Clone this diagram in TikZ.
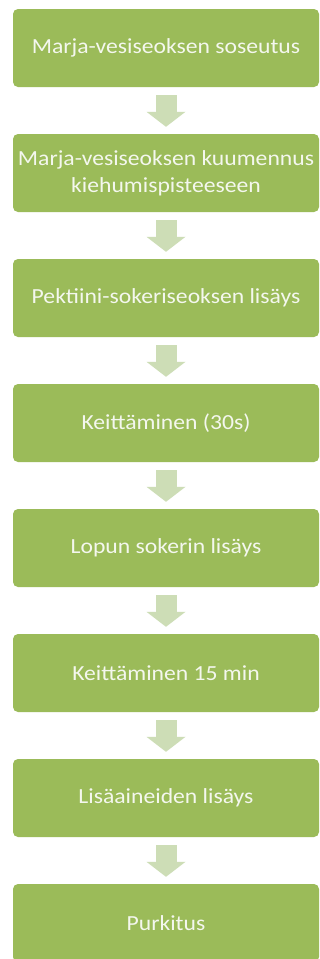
\documentclass[tikz,border=0pt]{standalone}
\usepackage{fontspec}
\setmainfont{Carlito}[FakeStretch=1.1]
\usetikzlibrary{arrows.meta}
\definecolor{boxgreen}{HTML}{9BBB59}
\definecolor{arrowgreen}{HTML}{CDDDB6}
\definecolor{boxtext}{HTML}{F4F7EE}
\begin{document}
\begin{tikzpicture}[x=1pt,y=-1pt,
  box/.style={fill=boxgreen, rounded corners=5pt, minimum width=306pt, minimum height=78pt,
    inner sep=0pt, text=boxtext, font=\fontsize{21.5}{27}\selectfont, align=center},
  fatarrow/.style={draw=arrowgreen, line width=21pt, shorten <=8pt, shorten >=7pt,
    -{Triangle[length=15pt,width=39pt,line width=0pt,fill=arrowgreen]}}]
\useasboundingbox (0,0) rectangle (320,959);
\fill[white] (0,0) rectangle (320,959);
\node[box] (b1) at (166,48) {Marja-vesiseoksen soseutus};
\node[box] (b2) at (166,173) {Marja-vesiseoksen kuumennus\\kiehumispisteeseen};
\node[box] (b3) at (166,298) {Pektiini-sokeriseoksen lisäys};
\node[box] (b4) at (166,423) {Keittäminen (30s)};
\node[box] (b5) at (166,548) {Lopun sokerin lisäys};
\node[box] (b6) at (166,673) {Keittäminen 15 min};
\node[box] (b7) at (166,798) {Lisäaineiden lisäys};
\node[box] (b8) at (166,923) {Purkitus};
\foreach \a/\b in {b1/b2,b2/b3,b3/b4,b4/b5,b5/b6,b6/b7,b7/b8}
  \draw[fatarrow] (\a.south) -- (\b.north);
\end{tikzpicture}
\end{document}
